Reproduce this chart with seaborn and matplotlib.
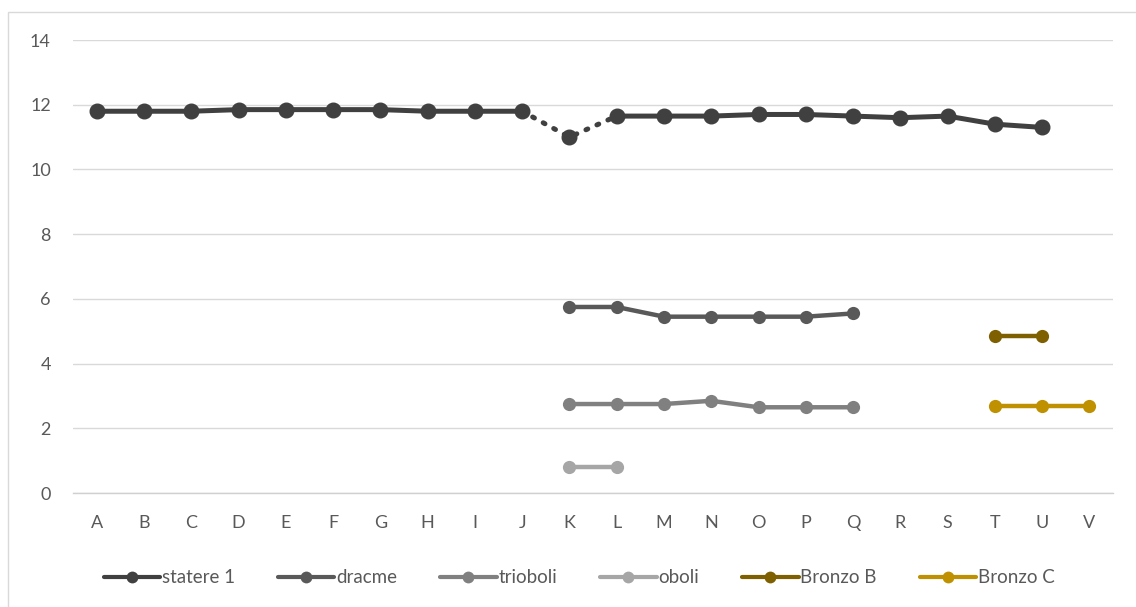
import numpy as np
import pandas as pd
import matplotlib
matplotlib.use("Agg")
import matplotlib.pyplot as plt
from matplotlib.lines import Line2D
from matplotlib.patches import Rectangle
import seaborn as sns

categories = list("ABCDEFGHIJKLMNOPQRSTUV")

statere_cats = list("ABCDEFGHIJKLMNOPQRSTU")
statere_vals = [11.8, 11.8, 11.8, 11.85, 11.85, 11.85, 11.85, 11.8, 11.8, 11.8,
                11.0, 11.65, 11.65, 11.65, 11.7, 11.7, 11.65, 11.6, 11.65, 11.4, 11.3]

dracme_cats = list("KLMNOPQ")
dracme_vals = [5.75, 5.75, 5.45, 5.45, 5.45, 5.45, 5.55]

trioboli_cats = list("KLMNOPQ")
trioboli_vals = [2.75, 2.75, 2.75, 2.85, 2.65, 2.65, 2.65]

oboli_cats = ["K", "L"]
oboli_vals = [0.8, 0.8]

bronzo_b_cats = ["T", "U"]
bronzo_b_vals = [4.85, 4.85]

bronzo_c_cats = ["T", "U", "V"]
bronzo_c_vals = [2.7, 2.7, 2.7]

sns.set_theme(style="white")
plt.rcParams["font.family"] = ["Lato", "DejaVu Sans"]

pos = {c: i for i, c in enumerate(categories)}

def frame(cats, vals):
    return pd.DataFrame({"x": [pos[c] for c in cats], "y": vals})

fig = plt.figure(figsize=(11.36, 6.07), dpi=100)
ax = fig.add_axes([0.0643, 0.1878, 0.9155, 0.7462])

series = [
    ("statere 1", statere_cats, statere_vals, "#404040", 3.6, 10.5),
    ("dracme", dracme_cats, dracme_vals, "#595959", 3.2, 9.5),
    ("trioboli", trioboli_cats, trioboli_vals, "#808080", 3.2, 9.5),
    ("oboli", oboli_cats, oboli_vals, "#a6a6a6", 3.2, 9.5),
    ("Bronzo B", bronzo_b_cats, bronzo_b_vals, "#7f6000", 3.2, 9.5),
    ("Bronzo C", bronzo_c_cats, bronzo_c_vals, "#bf9000", 3.2, 9.5),
]

handles = []
for name, cats, vals, color, lw, ms in series:
    df = frame(cats, vals)
    if name == "statere 1":
        # dotted link through the K value, solid elsewhere
        k = cats.index("K")
        sns.lineplot(data=df.iloc[:k], x="x", y="y", ax=ax, color=color, lw=lw,
                     zorder=3)
        sns.lineplot(data=df.iloc[k + 1:], x="x", y="y", ax=ax, color=color,
                     lw=lw, zorder=3)
        sns.lineplot(data=df.iloc[k - 1:k + 2], x="x", y="y", ax=ax, color=color,
                     lw=lw, ls=(0, (0.4, 2.0)), dash_capstyle="round", zorder=3)
        ax.plot(df["x"], df["y"], ls="none", marker="o", ms=ms, color=color,
                zorder=4)
    else:
        sns.lineplot(data=df, x="x", y="y", ax=ax, color=color, lw=lw,
                     marker="o", markersize=ms, markeredgewidth=0, zorder=3)
    handles.append(Line2D([], [], color=color, lw=3.0, marker="o", ms=8.5,
                          markeredgewidth=0, label=name))

ax.set_xlim(-0.5, len(categories) - 0.5)
ax.set_ylim(0, 14)
ax.set_yticks(np.arange(0, 15, 2))
ax.set_xticks(range(len(categories)))
ax.set_xticklabels(categories)
ax.set_xlabel("")
ax.set_ylabel("")
ax.grid(axis="y", color="#d9d9d9", lw=1.0)
ax.grid(axis="x", visible=False)
for s in ["top", "right", "left"]:
    ax.spines[s].set_visible(False)
ax.spines["bottom"].set_color("#d0d0d0")
ax.spines["bottom"].set_linewidth(1.0)
ax.tick_params(axis="both", length=0, labelsize=13, colors="#595959")
ax.tick_params(axis="x", pad=16)
ax.tick_params(axis="y", pad=16)
ax.set_axisbelow(True)

fig.legend(handles=handles, loc="center", bbox_to_anchor=(0.51, 0.048),
           ncol=6, frameon=False, fontsize=13.5, handlelength=3.0,
           handletextpad=0.1, columnspacing=2.3, labelcolor="#595959")

fig.patches.append(Rectangle((8 / 1136, -0.05), 1.2, (595 / 607) + 0.05,
                             transform=fig.transFigure, fill=False,
                             edgecolor="#d9d9d9", lw=1.0))

fig.savefig("out.png", dpi=100)
